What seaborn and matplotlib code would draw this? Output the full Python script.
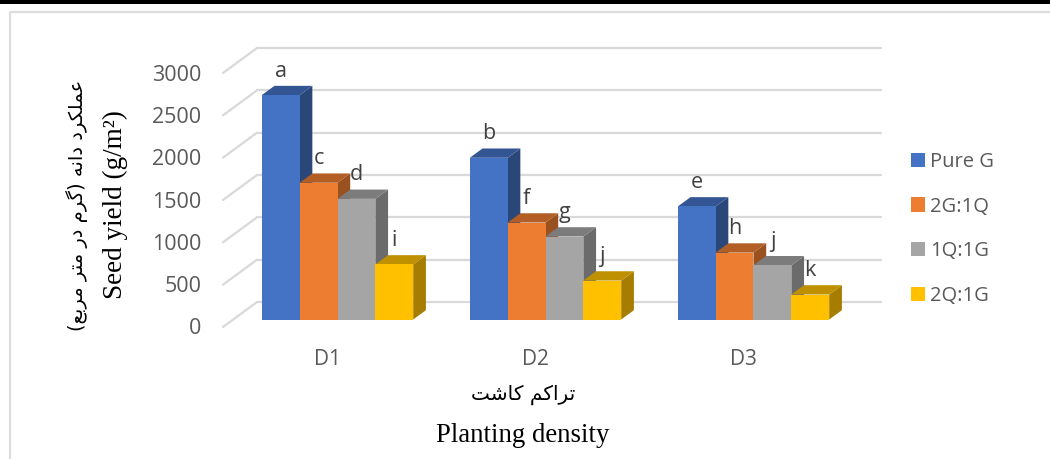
import matplotlib
matplotlib.use("Agg")
import matplotlib.pyplot as plt
import matplotlib.transforms as mtransforms
from matplotlib.lines import Line2D
from matplotlib.patches import Polygon, Rectangle
import pandas as pd
import seaborn as sns

# values
densities = ["D1", "D2", "D3"]
treatments = ["Pure G", "2G:1Q", "1Q:1G", "2Q:1G"]
pure_g = [2650, 1910, 1335]
g2q1 = [1615, 1145, 790]
q1g1 = [1425, 980, 640]
q2g1 = [650, 460, 295]
letters = [["a", "b", "e"], ["c", "f", "h"], ["d", "g", "j"], ["i", "j", "k"]]
yticks = [0, 500, 1000, 1500, 2000, 2500, 3000]

front_colors = ["#4472C4", "#ED7D31", "#A5A5A5", "#FFC000"]
top_colors = ["#335593", "#B25E25", "#7C7C7C", "#BF9000"]
side_colors = ["#2B4779", "#9A5120", "#6B6B6B", "#A67D00"]

# matplotlib does no Arabic shaping, so pick the presentation forms here
# letter: isolated, final, initial, medial
FORMS = {
    "ع": "\uFEC9\uFECA\uFECB\uFECC", "م": "\uFEE1\uFEE2\uFEE3\uFEE4",
    "ل": "\uFEDD\uFEDE\uFEDF\uFEE0", "ک": "\uFB8E\uFB8F\uFB90\uFB91",
    "ن": "\uFEE5\uFEE6\uFEE7\uFEE8", "ه": "\uFEE9\uFEEA\uFEEB\uFEEC",
    "گ": "\uFB92\uFB93\uFB94\uFB95", "ت": "\uFE95\uFE96\uFE97\uFE98",
    "ب": "\uFE8F\uFE90\uFE91\uFE92", "ش": "\uFEB5\uFEB6\uFEB7\uFEB8",
    "ر": "\uFEAD\uFEAE", "د": "\uFEA9\uFEAA", "ا": "\uFE8D\uFE8E",
}


def shape(text):
    out = []
    for i, ch in enumerate(text):
        if ch not in FORMS:
            out.append({"(": ")", ")": "("}.get(ch, ch))
            continue
        prev = text[i - 1] if i > 0 else " "
        nxt = text[i + 1] if i < len(text) - 1 else " "
        joins_prev = prev in FORMS and len(FORMS[prev]) == 4
        joins_next = nxt in FORMS and len(FORMS[ch]) == 4
        idx = {(False, False): 0, (True, False): 1, (False, True): 2, (True, True): 3}[(joins_prev, joins_next)]
        out.append(FORMS[ch][idx])
    return "".join(reversed(out))


sns.set_theme(style="white")
plt.rcParams["font.family"] = ["Open Sans", "DejaVu Sans"]

W, H = 1050, 459
fig = plt.figure(figsize=(W / 100, H / 100), dpi=100)
ax = fig.add_axes([223 / W, (H - 319.5) / H, 658 / W, 254 / H])

df = pd.DataFrame({
    "density": densities * 4,
    "treatment": [t for t in treatments for _ in densities],
    "yield": pure_g + g2q1 + q1g1 + q2g1,
})
sns.barplot(data=df, x="density", y="yield", hue="treatment", palette=front_colors,
            saturation=1, width=0.728, gap=0, linewidth=0, ax=ax, legend=True)
ax.set_xlim(-0.5505, 2.613)
ax.set_ylim(0, 3000)
ax.set_xlabel("")
ax.set_ylabel("")
for s in ax.spines.values():
    s.set_visible(False)

# back wall gridlines and the slanted floor stubs
wall = 17.5
stub_x = 34 / 658
grid_tf = ax.get_yaxis_transform()
shift_back = grid_tf + mtransforms.Affine2D().translate(0, wall)
for v in yticks:
    ax.plot([stub_x, 1], [v, v], color="#D9D9D9", lw=1.6, transform=shift_back, clip_on=False, zorder=1)
    ax.add_line(Line2D([0, stub_x], [v - 7.5 / 0.0847, v + wall / 0.0847], color="#D9D9D9", lw=1.6,
                       transform=grid_tf, clip_on=False, zorder=1))

ax.set_yticks(yticks)
ax.tick_params(axis="y", length=0, pad=15.5, labelsize=15.5, labelcolor="#595959")
ax.tick_params(axis="x", length=0, pad=21.5, labelsize=15, labelcolor="#595959")
for lab in ax.get_yticklabels():
    lab.set_transform(lab.get_transform() + mtransforms.Affine2D().translate(0, -7))
for lab in ax.get_xticklabels():
    lab.set_transform(lab.get_transform() + mtransforms.Affine2D().translate(-10.5, 0))

# fake 3D sides and tops, built from the bars seaborn drew
dx, dy = 12.7, 9.3
for i, cont in enumerate(ax.containers):
    for j, bar in enumerate(cont):
        x0, x1, h = bar.get_x(), bar.get_x() + bar.get_width(), bar.get_height()
        (px0, py0), (px1, py1) = ax.transData.transform([(x0, 0), (x1, h)])
        side = [(px1, py0), (px1 + dx, py0 + dy), (px1 + dx, py1 + dy), (px1, py1)]
        top = [(px0, py1), (px0 + dx, py1 + dy), (px1 + dx, py1 + dy), (px1, py1)]
        z = 3 + 2 * i
        for pts, col in [(side, side_colors[i]), (top, top_colors[i])]:
            ax.add_patch(Polygon(pts, closed=True, facecolor=col, edgecolor="none",
                                 transform=mtransforms.IdentityTransform(), zorder=z, clip_on=False))
        bar.set_zorder(z + 1)
        ax.annotate(letters[i][j], xy=(bar.get_x() + bar.get_width() / 2, h), xytext=(0, 13.4),
                    textcoords="offset points", ha="center", va="baseline", fontsize=15.5,
                    color="#404040", zorder=20, annotation_clip=False)

ax.legend(loc="upper left", bbox_to_anchor=(911 / W, 1 - 152 / H), bbox_transform=fig.transFigure,
          frameon=False, title=None, fontsize=14.5, handlelength=0.7, handleheight=0.7,
          handletextpad=0.25, labelspacing=1.22, borderpad=0, borderaxespad=0, labelcolor="#595959")


def fig_text(x, y, s, **kw):
    fig.text(x / W, 1 - y / H, s, ha="center", va="center", **kw)


fig_text(77, 205, shape("عملکرد دانه (گرم در متر مربع)"), rotation=90, fontsize=14,
         family="DejaVu Sans", color="black")
fig_text(115, 205, "Seed yield (g/m²)", rotation=90, fontsize=19.5, family="Liberation Serif", color="black")
fig_text(523, 395, shape("تراکم کاشت"), fontsize=14.5, family="DejaVu Sans", color="black")
fig_text(523, 435, "Planting density", fontsize=19.3, family="Liberation Serif", color="black")

# page furniture: screenshot frame and black strip along the top
fig.add_artist(Rectangle((0, 1 - 4 / H), 1, 4 / H, transform=fig.transFigure, facecolor="black", edgecolor="none"))
fig.add_artist(Line2D([1, 9.5 / W, 9.5 / W], [1 - 12 / H, 1 - 12 / H, 0], transform=fig.transFigure,
                      color="#DDDDDD", lw=1.6))

fig.savefig("out.png", dpi=100)
